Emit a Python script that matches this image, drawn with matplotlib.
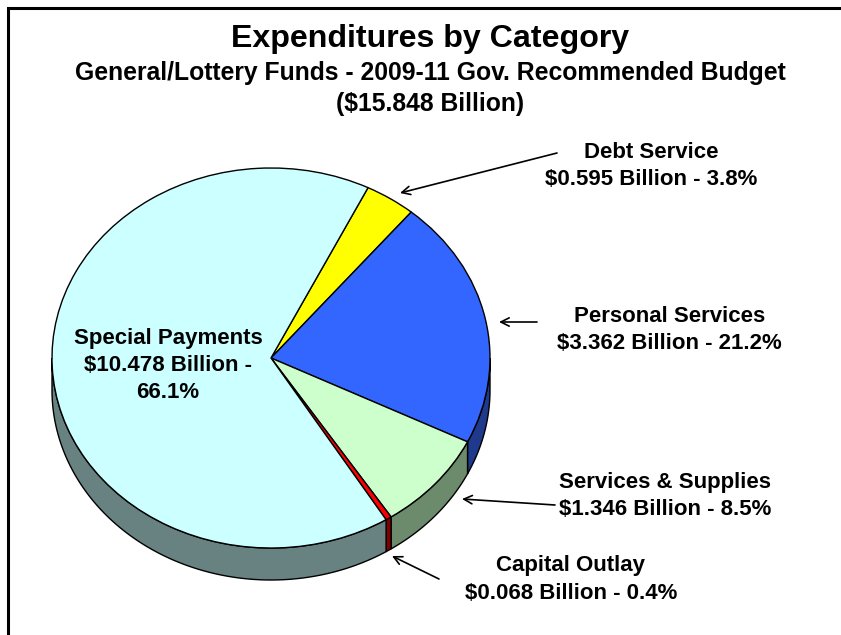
#Expenditures by category - 3D looking pie
import matplotlib
matplotlib.use("Agg")
import numpy as np
import matplotlib.pyplot as plt
from matplotlib.patches import Polygon

plt.rcParams['font.family'] = ['Liberation Sans', 'DejaVu Sans']

#data, clockwise from the top
categories = ["Debt Service", "Personal Services", "Services & Supplies", "Capital Outlay", "Special Payments"]
billions = [0.595, 3.362, 1.346, 0.068, 10.478]
percents = ["3.8%", "21.2%", "8.5%", "0.4%", "66.1%"]
top_colors = ["#FFFF00", "#3366FF", "#CCFFCC", "#FF0000", "#CCFFFF"]
side_colors = ["#808000", "#1F3A8C", "#6C8A6C", "#800000", "#688282"]

W, H = 841, 635
fig = plt.figure(figsize=(W / 100, H / 100), dpi=100)

# overlay in pixel coords for the frame, text and arrows
bg = fig.add_axes([0, 0, 1, 1])
bg.set_xlim(0, W)
bg.set_ylim(H, 0)
bg.axis("off")

# pie ellipse, top face
cx, cy, rx, ry = 271, 358, 219, 190
depth = 32 / ry
ax = fig.add_axes([(cx - rx) / W, 1 - (cy + ry) / H, 2 * rx / W, 2 * ry / H])
wedges, _ = ax.pie(billions, colors=top_colors, startangle=63.7, counterclock=False,
                   radius=1, wedgeprops={"edgecolor": "black", "linewidth": 1.0})
for w in wedges:
    w.set_clip_on(False)
    w.set_zorder(3)
ax.set_aspect("auto")
ax.set_xlim(-1, 1)
ax.set_ylim(-1, 1)
ax.patch.set_visible(False)

# side wall, only the front half can be seen
for w, c in zip(wedges, side_colors):
    t1, t2 = w.theta1 % 360, w.theta2 % 360
    if t2 <= t1:
        t2 += 360
    spans = [(max(t1, 180), min(t2, 360)), (max(t1 - 360, 180), min(t2 - 360, 360))]
    for a, b in spans:
        if b <= a:
            continue
        t = np.radians(np.linspace(a, b, 200))
        x, y = np.cos(t), np.sin(t)
        pts = np.column_stack([np.r_[x, x[::-1]], np.r_[y, y[::-1] - depth]])
        ax.add_patch(Polygon(pts, closed=True, facecolor=c, edgecolor="black",
                             linewidth=1.0, clip_on=False, zorder=2))

# frame, only left and top are in the picture
bg.plot([8, 8, W], [H, 8, 8], color="black", lw=2.2, solid_joinstyle="miter")

# title
bg.text(430, 39.5, "Expenditures by Category", ha="center", va="center", fontsize=23.1, fontweight="bold")
bg.text(430, 73, "General/Lottery Funds - 2009-11 Gov. Recommended Budget", ha="center", va="center",
        fontsize=17.8, fontweight="bold")
bg.text(430, 104, "($15.848 Billion)", ha="center", va="center", fontsize=17.8, fontweight="bold")


def label(i):
    return "%s\n$%.3f Billion - %s" % (categories[i], billions[i], percents[i])


# slice labels
lab = dict(ha="center", va="center", fontsize=16, fontweight="bold", linespacing=1.39)
bg.text(651, 166, label(0), **lab)
bg.text(669.5, 330, label(1), **lab)
bg.text(665.5, 496, label(2), **lab)
bg.text(571, 579.5, label(3), **lab)
bg.text(168, 365.5, "%s\n$%.3f Billion -\n%s" % (categories[4], billions[4], percents[4]), zorder=5, **lab)

# arrows
arrows = [((557, 153), (400, 193)), ((537, 322), (499, 322)), ((555, 505), (462, 499)), ((439, 579), (392, 556))]
for tail, head in arrows:
    bg.annotate("", xy=head, xytext=tail, zorder=5,
                arrowprops=dict(arrowstyle="->", color="black", lw=1.2, shrinkA=0, shrinkB=0, mutation_scale=15))
bg.set_zorder(1)
ax.set_zorder(0)

fig.savefig("out.png", dpi=100)
